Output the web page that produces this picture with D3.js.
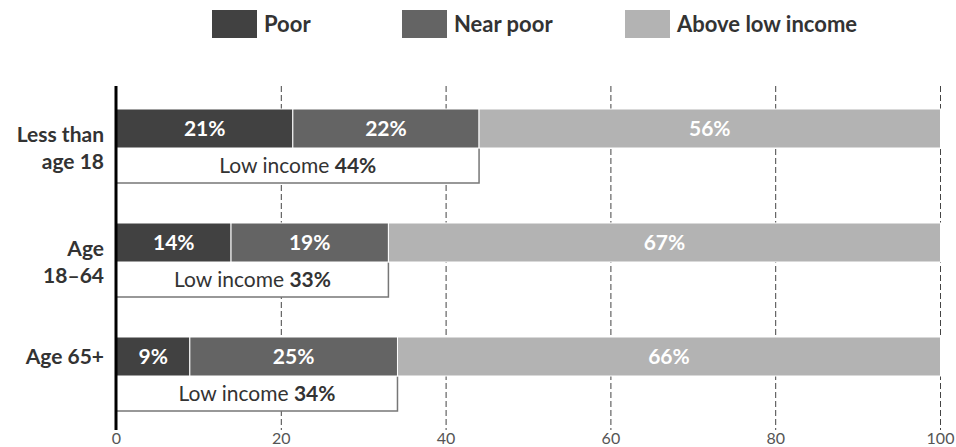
<!DOCTYPE html>
<html>
<head>
<meta charset="utf-8">
<script src="https://cdn.jsdelivr.net/npm/d3@7"></script>
<style>
  body { margin: 0; background: #fff; }
  svg { display: block; font-family: "Lato", "Open Sans", sans-serif; }
</style>
</head>
<body>
<div id="chart"></div>
<script>
// data
var categories = [["Less than", "age 18"], ["Age", "18\u201364"], ["Age 65+"]];
var seriesNames = ["Poor", "Near poor", "Above low income"];
var poor = [21.4, 13.9, 8.9];
var nearPoor = [22.6, 19.1, 25.2];
var aboveLow = [56, 67, 65.9];
var poorLabels = ["21%", "14%", "9%"];
var nearPoorLabels = ["22%", "19%", "25%"];
var aboveLowLabels = ["56%", "67%", "66%"];
var lowIncomeLabels = ["44%", "33%", "34%"];
var tickValues = [0, 20, 40, 60, 80, 100];

var colors = ["#414141", "#646464", "#b3b3b3"];

var width = 956, height = 447;
var svg = d3.select("#chart").append("svg")
    .attr("width", width)
    .attr("height", height);

var x = d3.scaleLinear().domain([0, 100]).range([116.5, 940.5]);
var keys = categories.map(function(d, i) { return i; });
var y = d3.scaleBand().domain(keys).range([109, 109 + 3 * 114]).paddingInner(0).paddingOuter(0);
var barH = 39, boxH = 35;

var rows = keys.map(function(i) {
    return {i: i, values: [poor[i], nearPoor[i], aboveLow[i]],
            labels: [poorLabels[i], nearPoorLabels[i], aboveLowLabels[i]]};
});

//grid lines
var grid = svg.append("g");
grid.selectAll("line")
    .data(tickValues.slice(1))
    .enter().append("line")
    .attr("x1", function(d) { return x(d); })
    .attr("x2", function(d) { return x(d); })
    .attr("y1", 86)
    .attr("y2", 430)
    .attr("stroke", "#444")
    .attr("stroke-width", 1)
    .attr("stroke-dasharray", "6,3");

//tick labels
svg.append("g").selectAll("text")
    .data(tickValues)
    .enter().append("text")
    .attr("x", function(d) { return x(d); })
    .attr("y", 444)
    .attr("text-anchor", "middle")
    .attr("font-size", 16)
    .attr("fill", "#555")
    .text(function(d) { return d; });

//low income boxes
var boxes = svg.append("g").selectAll("g")
    .data(rows)
    .enter().append("g");

boxes.append("rect")
    .attr("x", x(0))
    .attr("y", function(d) { return y(d.i) + barH; })
    .attr("width", function(d) { return x(d.values[0] + d.values[1]) - x(0); })
    .attr("height", boxH)
    .attr("fill", "#fff");

boxes.append("path")
    .attr("d", function(d) {
        var xe = x(d.values[0] + d.values[1]), yt = y(d.i) + barH, yb = yt + boxH;
        return "M" + x(0) + "," + yb + "H" + xe + "V" + yt;
    })
    .attr("fill", "none")
    .attr("stroke", "#777")
    .attr("stroke-width", 1.5);

var boxText = boxes.append("text")
    .attr("x", function(d) { return (x(0) + x(d.values[0] + d.values[1])) / 2; })
    .attr("y", function(d) { return y(d.i) + barH + 25; })
    .attr("text-anchor", "middle")
    .attr("font-size", 21)
    .attr("fill", "#333");
boxText.append("tspan").text("Low income ");
boxText.append("tspan")
    .attr("font-weight", 700)
    .text(function(d) { return " " + lowIncomeLabels[d.i]; });

//stacked bars
var segs = svg.append("g").selectAll("g")
    .data(rows)
    .enter().append("g")
    .selectAll("g")
    .data(function(d) {
        var acc = 0;
        return d.values.map(function(v, k) {
            var s = {row: d.i, k: k, x0: acc, x1: acc + v, label: d.labels[k]};
            acc += v;
            return s;
        });
    })
    .enter().append("g");

segs.append("rect")
    .attr("x", function(d) { return x(d.x0); })
    .attr("y", function(d) { return y(d.row); })
    .attr("width", function(d) { return x(d.x1) - x(d.x0); })
    .attr("height", barH)
    .attr("fill", function(d) { return colors[d.k]; })
    .attr("stroke", "#fff")
    .attr("stroke-width", 1);

segs.append("text")
    .attr("x", function(d) { return (x(d.x0) + x(d.x1)) / 2; })
    .attr("y", function(d) { return y(d.row) + 27; })
    .attr("text-anchor", "middle")
    .attr("font-size", 21)
    .attr("font-weight", 700)
    .attr("fill", "#fff")
    .text(function(d) { return d.label; });

//axis line
svg.append("line")
    .attr("x1", x(0) - 0.5).attr("x2", x(0) - 0.5)
    .attr("y1", 86).attr("y2", 430)
    .attr("stroke", "#000")
    .attr("stroke-width", 3);

//category labels
var catText = svg.append("g").selectAll("text")
    .data(rows)
    .enter().append("text")
    .attr("text-anchor", "end")
    .attr("font-size", 21)
    .attr("font-weight", 700)
    .attr("fill", "#333")
    .attr("y", function(d) { return categories[d.i].length > 1 ? y(d.i) + 33 : y(d.i) + 27; });
catText.selectAll("tspan")
    .data(function(d) { return categories[d.i]; })
    .enter().append("tspan")
    .attr("x", 104)
    .attr("dy", function(d, j) { return j == 0 ? 0 : 27; })
    .text(function(d) { return d; });

//legend
var legendX = [212, 402, 625];
var legend = svg.append("g").selectAll("g")
    .data(seriesNames)
    .enter().append("g")
    .attr("transform", function(d, i) { return "translate(" + legendX[i] + ",10)"; });

legend.append("rect")
    .attr("width", 45)
    .attr("height", 28)
    .attr("fill", function(d, i) { return colors[i]; });

legend.append("text")
    .attr("x", 52)
    .attr("y", 22)
    .attr("font-size", 22)
    .attr("font-weight", 700)
    .attr("fill", "#333")
    .text(function(d) { return d; });
</script>
</body>
</html>
